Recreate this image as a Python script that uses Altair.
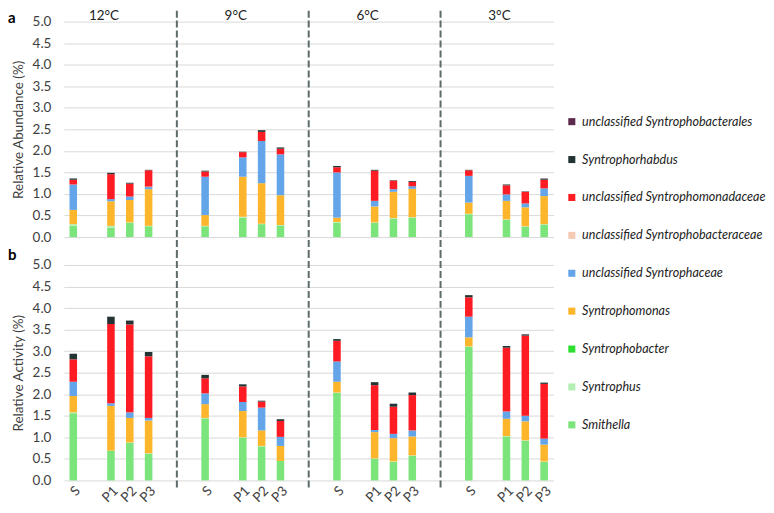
import altair as alt
import pandas as pd

temps = ["12°C", "9°C", "6°C", "3°C"]
samples = ["S", "P1", "P2", "P3"]

# stacking order, bottom -> top
taxa = ["Smithella", "Syntrophus", "Syntrophobacter", "Syntrophomonas",
        "unclassified Syntrophaceae", "unclassified Syntrophobacteraceae",
        "unclassified Syntrophomonadaceae", "Syntrophorhabdus",
        "unclassified Syntrophobacterales"]
colors = ["#7be47b", "#b4efb4", "#2fdf2f", "#fdb52b", "#64a5e9",
          "#f5c9b3", "#fe1c24", "#243434", "#5b2a4c"]

# values per sample: 12S,12P1,12P2,12P3, 9S..., 6S..., 3S...
# panel a: relative abundance (%)
a_smithella   = [0.26, 0.22, 0.33, 0.25, 0.25, 0.45, 0.30, 0.27, 0.33, 0.33, 0.42, 0.45, 0.53, 0.40, 0.24, 0.29]
a_syntrophus  = [0.04, 0.04, 0.01, 0.01, 0.01, 0.02, 0.01, 0.01, 0.02, 0.01, 0.02, 0.01, 0.01, 0.01, 0.01, 0.01]
a_syntrophobacter = [0.0] * 16
a_syntrophomonas  = [0.33, 0.57, 0.52, 0.85, 0.25, 0.93, 0.94, 0.69, 0.10, 0.37, 0.61, 0.66, 0.26, 0.43, 0.44, 0.65]
a_u_syntrophaceae = [0.59, 0.05, 0.08, 0.05, 0.89, 0.45, 0.98, 0.95, 1.05, 0.13, 0.06, 0.06, 0.62, 0.15, 0.09, 0.18]
a_u_syntrophobacteraceae = [0.0, 0.0, 0.0, 0.01, 0.0, 0.0, 0.0, 0.0, 0.0, 0.0, 0.0, 0.0, 0.0, 0.0, 0.0, 0.0]
a_u_syntrophomonadaceae  = [0.11, 0.58, 0.30, 0.38, 0.12, 0.12, 0.21, 0.13, 0.12, 0.70, 0.20, 0.10, 0.13, 0.21, 0.27, 0.20]
a_syntrophorhabdus = [0.03, 0.03, 0.02, 0.01, 0.02, 0.01, 0.04, 0.03, 0.03, 0.02, 0.01, 0.02, 0.01, 0.02, 0.01, 0.02]
a_u_syntrophobacterales = [0.0] * 15 + [0.01]

# panel b: relative activity (%)
b_smithella   = [1.56, 0.69, 0.87, 0.62, 1.44, 0.99, 0.79, 0.45, 2.03, 0.50, 0.43, 0.57, 3.10, 1.02, 0.92, 0.43]
b_syntrophus  = [0.02, 0.00, 0.01, 0.01, 0.01, 0.01, 0.01, 0.00, 0.01, 0.01, 0.01, 0.01, 0.01, 0.01, 0.01, 0.01]
b_syntrophobacter = [0.0] * 16
b_syntrophomonas  = [0.38, 1.04, 0.57, 0.76, 0.32, 0.61, 0.36, 0.35, 0.25, 0.61, 0.54, 0.44, 0.21, 0.40, 0.44, 0.39]
b_u_syntrophaceae = [0.33, 0.06, 0.13, 0.06, 0.25, 0.21, 0.53, 0.21, 0.47, 0.05, 0.10, 0.14, 0.48, 0.17, 0.13, 0.14]
b_u_syntrophobacteraceae = [0.0] * 16
b_u_syntrophomonadaceae  = [0.52, 1.84, 2.04, 1.43, 0.35, 0.36, 0.14, 0.37, 0.48, 1.04, 0.63, 0.82, 0.45, 1.48, 1.86, 1.27]
b_syntrophorhabdus = [0.13, 0.17, 0.09, 0.10, 0.08, 0.05, 0.02, 0.04, 0.04, 0.07, 0.07, 0.06, 0.05, 0.04, 0.03, 0.03]
b_u_syntrophobacterales = [0.0] * 16

abund = [a_smithella, a_syntrophus, a_syntrophobacter, a_syntrophomonas, a_u_syntrophaceae,
         a_u_syntrophobacteraceae, a_u_syntrophomonadaceae, a_syntrophorhabdus, a_u_syntrophobacterales]
activ = [b_smithella, b_syntrophus, b_syntrophobacter, b_syntrophomonas, b_u_syntrophaceae,
         b_u_syntrophobacteraceae, b_u_syntrophomonadaceae, b_syntrophorhabdus, b_u_syntrophobacterales]

rows = []
for pid, table in (("a", abund), ("b", activ)):
    for ti, taxon in enumerate(taxa):
        for k, v in enumerate(table[ti]):
            rows.append({"panel": pid, "slot": f"{temps[k // 4]} {samples[k % 4]}",
                         "taxon": taxon, "ord": ti, "value": v})
df = pd.DataFrame(rows)

# category slots (with empty spacer slots)
slot_domain = []
for i, t in enumerate(temps):
    slot_domain += [f"{t} S", f"{t} _1", f"{t} P1", f"{t} P2", f"{t} P3"]
    if i < len(temps) - 1:
        slot_domain += [f"{t} _2", f"{t} _3"]

sep_df = pd.DataFrame({"slot": [f"{t} _2" for t in temps[:-1]]})
temp_df = pd.DataFrame({"slot": [f"{t} P1" for t in temps], "label": temps})

W = 491
H = 216
GAP = 28
STEP = W / len(slot_domain)
FONT = "Lato"
GRAY = "#404040"
AX = 13.5

x_scale = alt.Scale(domain=slot_domain, paddingInner=0.6, paddingOuter=0.3)
legend_order = taxa[::-1]
legend_colors = colors[::-1]


def panel(pid, ytitle, show_x, rule_top, rule_bottom):
    d = df[df.panel == pid]
    if show_x:
        xaxis = alt.Axis(labelAngle=315, ticks=False, domain=False, grid=False,
                         labelPadding=3, labelFontSize=AX, labelColor=GRAY, labelFont=FONT,
                         labelExpr="indexof(datum.value, '_') >= 0 ? '' : split(datum.value, ' ')[1]")
    else:
        xaxis = None
    X = alt.X("slot:N", scale=x_scale, axis=xaxis, title=None)
    bars = alt.Chart(d).mark_bar().encode(
        x=X,
        y=alt.Y("value:Q", stack="zero", scale=alt.Scale(domain=[0, 5]),
                axis=alt.Axis(values=[i * 0.5 for i in range(11)], format=".1f", title=ytitle,
                              tickSize=0, ticks=False, domain=False, labelPadding=13, titlePadding=7,
                              gridColor="#d9d9d9", labelFontSize=AX, titleFontSize=AX,
                              labelColor=GRAY, titleColor=GRAY, labelFont=FONT, titleFont=FONT,
                              titleFontWeight="normal")),
        color=alt.Color("taxon:N", scale=alt.Scale(domain=legend_order, range=legend_colors),
                        legend=alt.Legend(title=None, orient="none", legendX=503, legendY=94,
                                          symbolType="square", symbolSize=50, symbolStrokeWidth=0,
                                          labelFont=FONT, labelFontStyle="italic", labelFontSize=12.6,
                                          labelColor="#222222", labelOffset=4, rowPadding=25,
                                          labelLimit=300)),
        order=alt.Order("ord:Q", sort="ascending"),
    )
    rules = alt.Chart(sep_df).mark_rule(strokeDash=[7, 3], strokeWidth=2, color="#5d6b6b",
                                        xOffset=STEP / 2).encode(
        x=X, y=alt.value(rule_top), y2=alt.value(rule_bottom))
    letter = alt.Chart(pd.DataFrame({"letter": [pid]})).mark_text(
        align="left", baseline="alphabetic", fontSize=15, fontWeight="bold", font=FONT, color="#000000"
    ).encode(x=alt.value(-56), y=alt.value(1 if pid == "a" else -5), text="letter:N")
    layers = [bars, rules, letter]
    if pid == "a":
        temp = alt.Chart(temp_df).mark_text(dx=-7, fontSize=AX, font=FONT, color="#222222",
                                            baseline="alphabetic").encode(
            x=X, y=alt.value(-2), text="label:N")
        layers.append(temp)
    return alt.layer(*layers).properties(width=W, height=H)


top = panel("a", "Relative Abundance (%)", False, -11, H + GAP / 2)
bottom = panel("b", "Relative Activity (%)", True, -GAP / 2, H + 10)

chart = alt.vconcat(top, bottom, spacing=GAP, bounds="flush").resolve_scale(
    color="shared").properties(padding=0).configure_view(stroke=None)

chart.save("out.html", embed_options={"renderer": "svg", "actions": False})
